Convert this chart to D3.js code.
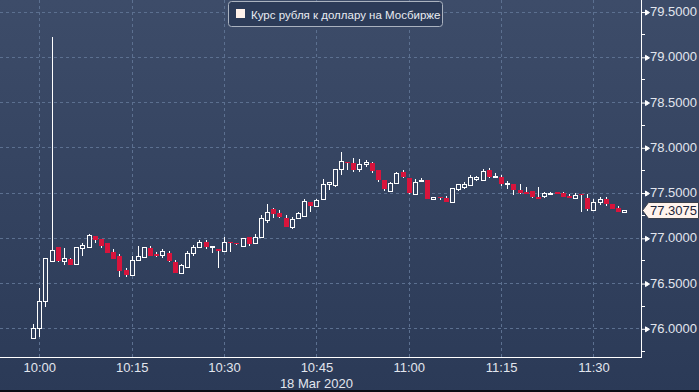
<!DOCTYPE html>
<html><head><meta charset="utf-8">
<script src="https://cdn.jsdelivr.net/npm/d3@7"></script>
<style>html,body{margin:0;padding:0;background:#2e3d5a;overflow:hidden}svg{display:block}</style>
</head><body>
<svg id="chart" width="699" height="392"></svg>
<script>
const times = ["09:59","10:00","10:01","10:02","10:03","10:04","10:05","10:06","10:07","10:08","10:09",
"10:10","10:11","10:12","10:13","10:14","10:15","10:16","10:17","10:18","10:19",
"10:20","10:21","10:22","10:23","10:24","10:25","10:26","10:27","10:28","10:29",
"10:30","10:31","10:32","10:33","10:34","10:35","10:36","10:37","10:38","10:39",
"10:40","10:41","10:42","10:43","10:44","10:45","10:46","10:47","10:48","10:49",
"10:50","10:51","10:52","10:53","10:54","10:55","10:56","10:57","10:58","10:59",
"11:00","11:01","11:02","11:03","11:04","11:05","11:06","11:07","11:08","11:09",
"11:10","11:11","11:12","11:13","11:14","11:15","11:16","11:17","11:18","11:19",
"11:20","11:21","11:22","11:23","11:24","11:25","11:26","11:27","11:28","11:29",
"11:30","11:31","11:32","11:33","11:34","11:35"];

const openValues = [75.896,
76.000,76.298,76.747,76.895,76.747,76.769,76.710,76.891,76.902,77.020,
76.987,76.939,76.840,76.796,76.641,76.592,76.751,76.785,76.884,76.821,
76.807,76.832,76.736,76.614,76.681,76.829,76.902,76.954,76.895,76.876,
76.857,76.957,76.946,76.909,77.006,76.939,77.006,77.197,77.315,77.277,
77.215,77.116,77.215,77.244,77.392,77.355,77.425,77.591,77.583,77.757,
77.841,77.823,77.760,77.812,77.823,77.746,77.635,77.520,77.606,77.724,
77.657,77.481,77.628,77.635,77.432,77.454,77.436,77.399,77.536,77.558,
77.583,77.650,77.639,77.749,77.672,77.675,77.594,77.594,77.528,77.506,
77.514,77.451,77.462,77.487,77.503,77.498,77.459,77.440,77.487,77.440,
77.307,77.392,77.429,77.377,77.329,77.282];

const highValues = [76.048,
76.442,76.777,79.222,76.895,76.887,76.780,76.895,76.943,77.042,77.025,
76.992,76.946,76.873,76.821,76.666,76.799,76.906,76.895,76.909,76.840,
76.880,76.851,76.755,76.710,76.854,76.920,76.976,76.976,76.906,76.876,
77.006,76.957,76.946,77.001,77.006,77.042,77.252,77.373,77.326,77.304,
77.249,77.227,77.285,77.425,77.392,77.432,77.650,77.613,77.760,77.945,
77.841,77.878,77.867,77.860,77.841,77.746,77.635,77.620,77.727,77.749,
77.657,77.650,77.657,77.635,77.448,77.454,77.462,77.547,77.591,77.613,
77.691,77.686,77.757,77.771,77.713,77.694,77.624,77.594,77.594,77.558,
77.514,77.558,77.503,77.509,77.503,77.503,77.484,77.492,77.487,77.484,
77.432,77.448,77.448,77.377,77.348,77.3075];

const lowValues = [75.893,
75.907,76.239,76.736,76.736,76.703,76.703,76.703,76.799,76.902,76.946,
76.891,76.832,76.769,76.570,76.570,76.581,76.751,76.777,76.799,76.785,
76.777,76.736,76.614,76.614,76.681,76.802,76.891,76.880,76.829,76.670,
76.857,76.846,76.917,76.909,76.913,76.939,77.006,77.160,77.222,77.215,
77.123,77.101,77.215,77.244,77.288,77.337,77.425,77.525,77.565,77.691,
77.749,77.724,77.730,77.786,77.713,77.613,77.517,77.506,77.594,77.657,
77.481,77.481,77.628,77.425,77.425,77.418,77.399,77.392,77.517,77.536,
77.583,77.631,77.639,77.657,77.672,77.572,77.543,77.473,77.484,77.492,
77.436,77.432,77.436,77.470,77.484,77.454,77.440,77.440,77.288,77.299,
77.299,77.362,77.355,77.322,77.285,77.282];

const closeValues = [76.000,
76.298,76.777,76.865,76.747,76.777,76.703,76.895,76.920,77.031,76.979,
76.909,76.832,76.769,76.636,76.592,76.751,76.796,76.895,76.799,76.799,
76.851,76.747,76.614,76.696,76.829,76.895,76.954,76.898,76.906,76.857,
76.954,76.943,76.928,76.994,76.931,77.009,77.215,77.282,77.266,77.233,
77.123,77.208,77.271,77.403,77.355,77.418,77.594,77.613,77.760,77.849,
77.823,77.749,77.815,77.834,77.741,77.635,77.536,77.606,77.716,77.675,
77.492,77.620,77.642,77.425,77.448,77.443,77.399,77.547,77.591,77.594,
77.669,77.669,77.741,77.675,77.683,77.591,77.609,77.528,77.498,77.492,
77.454,77.432,77.495,77.498,77.484,77.454,77.440,77.476,77.470,77.315,
77.392,77.429,77.370,77.322,77.285,77.3075];

const yTickValues = [76.0, 76.5, 77.0, 77.5, 78.0, 78.5, 79.0, 79.5];
const yMinorTicks = [75.75, 76.25, 76.75, 77.25, 77.75, 78.25, 78.75, 79.25];
const xTickLabels = ["10:00","10:15","10:30","10:45","11:00","11:15","11:30"];
const dateLabel = "18 Mar 2020";
const legendLabel = "Курс рубля к доллару на Мосбирже";
const lastPrice = 77.3075;

const W = 699, H = 392;
const plotRight = 641, plotBottom = 357;
const FONT = "'Liberation Sans', Arial, sans-serif";
const toDate = s => { const [h, m] = s.split(":").map(Number); return new Date(2020, 2, 18, h, m); };

const svg = d3.select("#chart");
const defs = svg.append("defs");
const grad = defs.append("linearGradient").attr("id", "bg").attr("x1", 0).attr("y1", 0).attr("x2", 0).attr("y2", 1);
grad.append("stop").attr("offset", "0%").attr("stop-color", "#3d4c69");
grad.append("stop").attr("offset", "100%").attr("stop-color", "#2b3a57");
svg.append("rect").attr("width", W).attr("height", H).attr("fill", "url(#bg)");
svg.append("rect").attr("x", 0).attr("y", 390).attr("width", W).attr("height", 2).attr("fill", "#0a0d14");

const x = d3.scaleTime()
  .domain([new Date(2020, 2, 18, 9, 53, 37), new Date(2020, 2, 18, 11, 37, 43)])
  .range([0, plotRight]);
const y = d3.scaleLinear().domain([76, 79.5]).range([328.3, 11.55]);

// grid
const grid = svg.append("g").attr("stroke", "#5c7090").attr("stroke-width", 1)
  .attr("stroke-dasharray", "3,3").attr("shape-rendering", "crispEdges");
grid.selectAll("line.h").data(yTickValues).join("line").attr("class", "h")
  .attr("x1", 0).attr("x2", plotRight)
  .attr("y1", d => Math.round(y(d)) + 0.5).attr("y2", d => Math.round(y(d)) + 0.5);
grid.selectAll("line.v").data(xTickLabels).join("line").attr("class", "v")
  .attr("y1", 0).attr("y2", plotBottom)
  .attr("x1", d => Math.round(x(toDate(d))) + 0.5).attr("x2", d => Math.round(x(toDate(d))) + 0.5);

// candles
const data = times.map((t, i) => ({ t: toDate(t), o: openValues[i], h: highValues[i], l: lowValues[i], c: closeValues[i] }));
const candles = svg.append("g").attr("shape-rendering", "crispEdges");
const cx = d => Math.round(x(d.t));
candles.selectAll("line.wick").data(data).join("line").attr("class", "wick")
  .attr("x1", d => cx(d) + 0.5).attr("x2", d => cx(d) + 0.5)
  .attr("y1", d => y(d.h)).attr("y2", d => y(d.l))
  .attr("stroke", "#ffffff").attr("stroke-width", 1);
candles.selectAll("rect.down").data(data.filter(d => d.c < d.o)).join("rect").attr("class", "down")
  .attr("x", d => cx(d) - 2).attr("width", 5)
  .attr("y", d => y(d.o)).attr("height", d => Math.max(1.5, y(d.c) - y(d.o)))
  .attr("fill", "#d8143c");
candles.selectAll("rect.up").data(data.filter(d => d.c >= d.o)).join("rect").attr("class", "up")
  .attr("x", d => cx(d) - 1.5).attr("width", 4)
  .attr("y", d => Math.round(y(d.c)) + 0.5).attr("height", d => Math.max(1, Math.round(y(d.o)) - Math.round(y(d.c))))
  .attr("fill", "#33425f").attr("stroke", "#ffffff").attr("stroke-width", 1);

// axes frame
svg.append("line").attr("x1", plotRight + 0.5).attr("x2", plotRight + 0.5).attr("y1", 0).attr("y2", plotBottom + 1)
  .attr("stroke", "#ffffff").attr("shape-rendering", "crispEdges");
svg.append("line").attr("x1", 0).attr("x2", plotRight + 1).attr("y1", plotBottom + 0.5).attr("y2", plotBottom + 0.5)
  .attr("stroke", "#ffffff").attr("shape-rendering", "crispEdges");

// right axis
const yAxis = d3.axisRight(y).tickValues(yTickValues).tickFormat(d3.format(".4f")).tickSize(0).tickPadding(9);
const gy = svg.append("g").attr("transform", `translate(${plotRight},0)`).call(yAxis);
gy.select(".domain").remove();
gy.selectAll("text").attr("fill", "#e2e6ee").attr("font-size", 13).attr("font-family", FONT);
gy.selectAll(".tick").append("path")
  .attr("d", "M0.5,0.5H4.5M4.5,-2L8.5,0.5L4.5,3Z")
  .attr("stroke", "#ffffff").attr("fill", "#ffffff").attr("stroke-width", 1);
const yMinor = d3.axisRight(y).tickValues(yMinorTicks).tickFormat("").tickSize(4);
const gym = svg.append("g").attr("transform", `translate(${plotRight},0)`).call(yMinor);
gym.select(".domain").remove();
gym.selectAll("line").attr("stroke", "#ffffff").attr("shape-rendering", "crispEdges");

// bottom axis
const xAxis = d3.axisBottom(x).tickValues(xTickLabels.map(toDate)).tickFormat(d3.timeFormat("%H:%M")).tickSize(0).tickPadding(6);
const gx = svg.append("g").attr("transform", `translate(0,${plotBottom})`).call(xAxis);
gx.select(".domain").remove();
gx.selectAll("text").attr("fill", "#e2e6ee").attr("font-size", 13).attr("font-family", FONT);
svg.append("text").attr("x", x(toDate("10:45"))).attr("y", 387.5).attr("text-anchor", "middle")
  .attr("fill", "#e2e6ee").attr("font-size", 13).attr("font-family", FONT).text(dateLabel);

// last price label
const ly = Math.round(y(lastPrice));
const lab = svg.append("g").attr("transform", `translate(0,${ly})`);
lab.append("path").attr("d", "M642.5,0.5L648.5,-7.5H698.5V8.5H648.5Z")
  .attr("fill", "#fff3ec").attr("stroke", "#3a3f4a").attr("stroke-width", 1);
lab.append("text").attr("x", 650).attr("y", 0).attr("dy", "0.36em").attr("fill", "#1c2438")
  .attr("font-size", 13).attr("font-family", FONT).text(d3.format(".4f")(lastPrice));

// legend
const lg = svg.append("g");
lg.append("rect").attr("x", 228.5).attr("y", 1.5).attr("width", 214).attr("height", 25).attr("rx", 3)
  .attr("fill", "#2c3b58").attr("stroke", "#aab2bf").attr("stroke-width", 1);
lg.append("rect").attr("x", 236).attr("y", 9).attr("width", 9).attr("height", 9).attr("fill", "#fff1ea");
lg.append("text").attr("x", 251).attr("y", 18.5).attr("fill", "#e8ebf2").attr("font-size", 11.5)
  .attr("font-family", FONT).text(legendLabel);
</script>
</body></html>
